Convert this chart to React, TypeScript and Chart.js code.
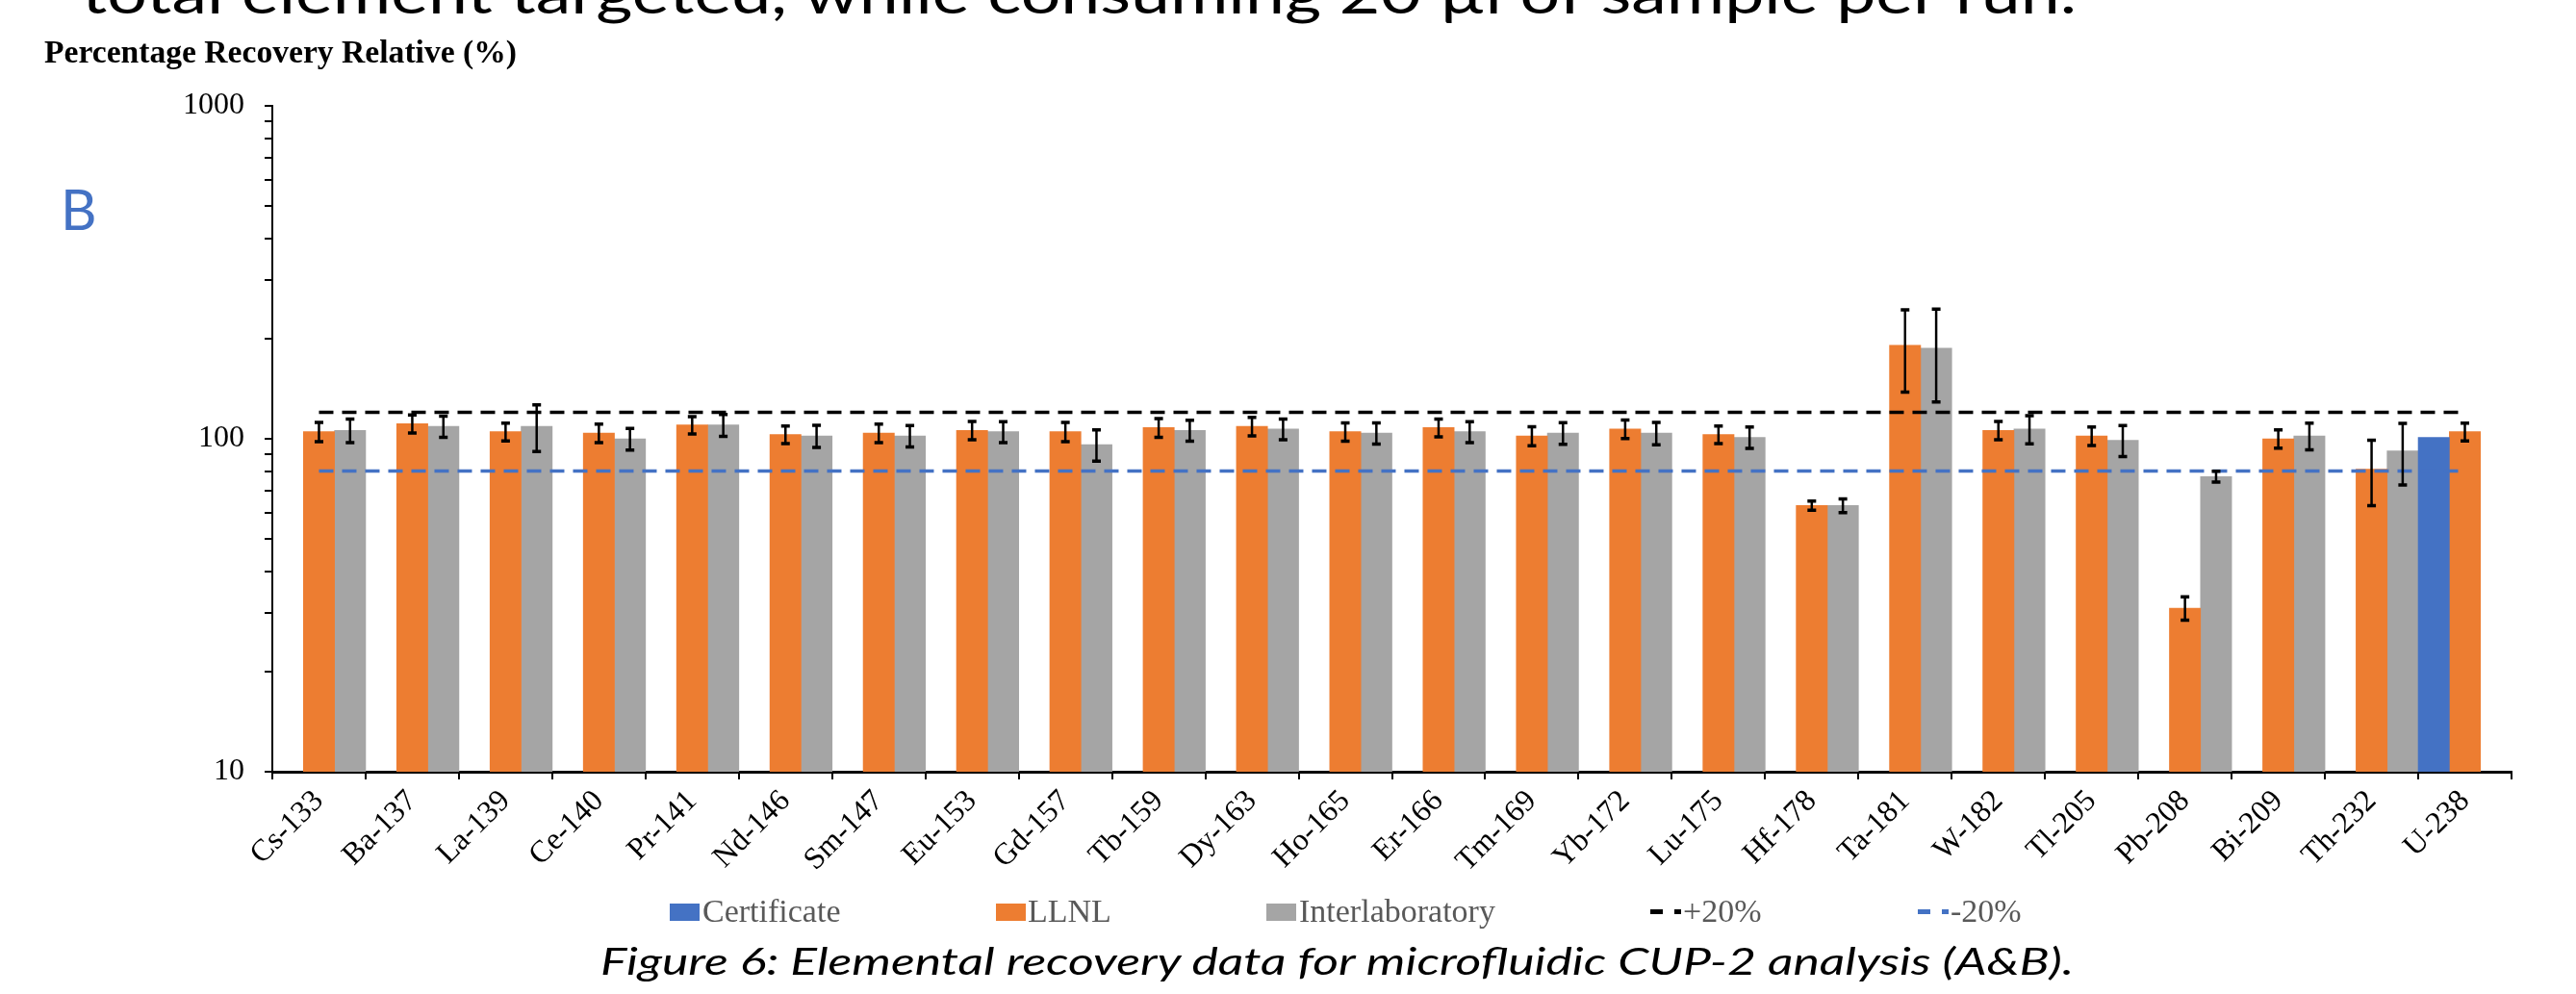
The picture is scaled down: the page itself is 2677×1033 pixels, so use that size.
import React, { useEffect, useRef } from "react";
import { Chart, registerables } from "chart.js";

Chart.register(...registerables);

// ---------- data ----------
const categories = [
  "Cs-133", "Ba-137", "La-139", "Ce-140", "Pr-141", "Nd-146", "Sm-147", "Eu-153",
  "Gd-157", "Tb-159", "Dy-163", "Ho-165", "Er-166", "Tm-169", "Yb-172", "Lu-175",
  "Hf-178", "Ta-181", "W-182", "Tl-205", "Pb-208", "Bi-209", "Th-232", "U-238",
];

const certificateValues = [
  null, null, null, null, null, null, null, null, null, null, null, null,
  null, null, null, null, null, null, null, null, null, null, null, 101,
];

const llnlValues = [
  105, 111, 105, 104, 110, 103, 104, 106, 105, 108, 109, 105,
  108, 102, 107, 103, 63, 191, 106, 102, 31, 100, 81, 105,
];
const llnlErrors = [
  7, 7, 6.5, 6.6, 6.6, 6.2, 6.6, 6.7, 6.9, 7, 6.9, 6.6,
  6.6, 6.7, 6.8, 6.3, 2, 53, 6.7, 6.5, 2.5, 6.3, 18, 6.5,
];

const interlabValues = [
  106, 109, 109, 100, 110, 102, 102, 105, 96, 106, 107, 104,
  105, 104, 104, 101, 63, 187, 107, 99, 77, 102, 92, null,
];
const interlabErrors = [
  8.7, 8, 17.5, 7.5, 8.3, 7.8, 7.5, 7.6, 10.3, 7.6, 7.7, 7.6,
  7.6, 7.8, 8, 7.5, 3, 58, 10.4, 10.6, 2.9, 9.4, 19.3, null,
];

const plus20Values = [
  120, 120, 120, 120, 120, 120, 120, 120, 120, 120, 120, 120,
  120, 120, 120, 120, 120, 120, 120, 120, 120, 120, 120, 120,
];
const minus20Values = [
  80, 80, 80, 80, 80, 80, 80, 80, 80, 80, 80, 80,
  80, 80, 80, 80, 80, 80, 80, 80, 80, 80, 80, 80,
];

const yTickValues = [10, 20, 30, 40, 50, 60, 70, 80, 90, 100, 200, 300, 400, 500, 600, 700, 800, 900, 1000];
const yTickLabels = ["10", "100", "1000"];

const legendLabels = ["Certificate", "LLNL", "Interlaboratory", "+20%", "-20%"];
const seriesNames = ["Certificate", "LLNL", "Interlaboratory", "+20%", "-20%"];

const axisTitle = "Percentage Recovery Relative (%)";
const topText = "total element targeted, while consuming 20 µl of sample per run.";
const panelLetter = "B";
const captionText = "Figure 6: Elemental recovery data for microfluidic CUP-2 analysis (A&B).";

// ---------- styles ----------
const BLUE = "#4472C4";
const ORANGE = "#ED7D31";
const GRAY = "#A5A5A5";
const SERIF = "'Liberation Serif', 'Times New Roman', serif";
const SANS = "Lato, 'Open Sans', sans-serif";

const errorBarPlugin = {
  id: "errorBars",
  afterDatasetsDraw(chart: any) {
    const ctx = chart.ctx;
    const yScale = chart.scales.y;
    const sets: [number, (number | null)[], (number | null)[]][] = [
      [1, llnlValues, llnlErrors],
      [2, interlabValues, interlabErrors],
    ];
    ctx.save();
    ctx.strokeStyle = "#000";
    for (const [idx, vals, errs] of sets) {
      const meta = chart.getDatasetMeta(idx);
      meta.data.forEach((bar: any, j: number) => {
        const v = vals[j];
        const e = errs[j];
        if (v == null || e == null) return;
        const x = bar.x;
        const top = yScale.getPixelForValue(v + e);
        const bot = yScale.getPixelForValue(v - e);
        ctx.lineWidth = 2.5;
        ctx.beginPath();
        ctx.moveTo(x, top);
        ctx.lineTo(x, bot);
        ctx.stroke();
        ctx.lineWidth = 3.5;
        ctx.beginPath();
        ctx.moveTo(x - 4.5, top);
        ctx.lineTo(x + 4.5, top);
        ctx.moveTo(x - 4.5, bot);
        ctx.lineTo(x + 4.5, bot);
        ctx.stroke();
      });
    }
    ctx.restore();
  },
};

function ChartCanvas() {
  const ref = useRef<HTMLCanvasElement | null>(null);
  useEffect(() => {
    if (!ref.current) return;
    const chart = new Chart(ref.current, {
      type: "bar",
      data: {
        labels: categories,
        datasets: [
          {
            label: seriesNames[0],
            data: certificateValues as any,
            backgroundColor: BLUE,
            borderWidth: 0,
            categoryPercentage: 1,
            barPercentage: 1,
            order: 1,
          },
          {
            label: seriesNames[1],
            data: llnlValues,
            backgroundColor: ORANGE,
            borderWidth: 0,
            categoryPercentage: 1,
            barPercentage: 1,
            order: 1,
          },
          {
            label: seriesNames[2],
            data: interlabValues as any,
            backgroundColor: GRAY,
            borderWidth: 0,
            categoryPercentage: 1,
            barPercentage: 1,
            order: 1,
          },
          {
            type: "line",
            label: seriesNames[3],
            data: plus20Values,
            borderColor: "#000",
            borderWidth: 3.5,
            borderDash: [15, 9],
            pointRadius: 0,
            fill: false,
            tension: 0,
            order: 0,
          } as any,
          {
            type: "line",
            label: seriesNames[4],
            data: minus20Values,
            borderColor: BLUE,
            borderWidth: 3.5,
            borderDash: [15, 9],
            pointRadius: 0,
            fill: false,
            tension: 0,
            order: 0,
          } as any,
        ],
      },
      options: {
        animation: false,
        responsive: false,
        maintainAspectRatio: false,
        devicePixelRatio: 1,
        events: [],
        layout: { padding: { left: 0, right: 67, top: 110, bottom: 0 } },
        plugins: {
          legend: { display: false },
          tooltip: { enabled: false },
          title: { display: false },
        },
        scales: {
          x: {
            type: "category",
            offset: true,
            grid: {
              display: true,
              offset: true,
              drawOnChartArea: false,
              drawTicks: true,
              tickLength: 8,
              color: "#000",
              lineWidth: 2,
            },
            border: { display: true, color: "#000", width: 3 },
            ticks: {
              font: { family: SERIF, size: 32 },
              color: "#000",
              minRotation: 45,
              maxRotation: 45,
              autoSkip: false,
              padding: 4,
            },
            afterFit: (s: any) => {
              s.height = 231;
            },
          },
          y: {
            type: "logarithmic",
            min: 10,
            max: 1000,
            afterBuildTicks: (s: any) => {
              s.ticks = yTickValues.map((v) => ({ value: v }));
            },
            ticks: {
              autoSkip: false,
              callback: (v: any) => (yTickLabels.includes(String(v)) ? String(v) : ""),
              font: { family: SERIF, size: 32 },
              color: "#000",
              padding: 21,
            },
            grid: {
              display: true,
              drawOnChartArea: false,
              drawTicks: true,
              tickLength: 8,
              color: "#000",
              lineWidth: 2,
            },
            border: { display: true, color: "#000", width: 2 },
            afterFit: (s: any) => {
              s.width = 283;
            },
          },
        },
      } as any,
      plugins: [errorBarPlugin],
    });
    return () => chart.destroy();
  }, []);
  return (
    <canvas
      ref={ref}
      width={2677}
      height={1033}
      style={{ position: "absolute", left: 0, top: 0, width: 2677, height: 1033 }}
    />
  );
}

export default function App() {
  const legendText = { fontFamily: SERIF, fontSize: 34, fill: "#595959" } as const;
  return (
    <div
      style={{
        position: "absolute",
        left: 0,
        top: 0,
        width: 2677,
        height: 1033,
        overflow: "hidden",
        background: "#fff",
      }}
    >
      <ChartCanvas />
      <svg
        width={2677}
        height={1033}
        style={{ position: "absolute", left: 0, top: 0, pointerEvents: "none" }}
      >
        <text x={85} y={14} fontFamily={SANS} fontSize={58} textLength={2073} lengthAdjust="spacingAndGlyphs" fill="#000">
          {topText}
        </text>
        <text x={63} y={239} fontFamily={SANS} fontSize={58} fill={BLUE}>
          {panelLetter}
        </text>
        <text x={46} y={65} fontFamily={SERIF} fontWeight="bold" fontSize={33} textLength={491} lengthAdjust="spacingAndGlyphs" fill="#000">
          {axisTitle}
        </text>

        {/* legend */}
        <rect x={696} y={939} width={31} height={18} fill={BLUE} />
        <text x={730} y={958} {...legendText}>{legendLabels[0]}</text>
        <rect x={1035} y={939} width={31} height={18} fill={ORANGE} />
        <text x={1068} y={958} {...legendText}>{legendLabels[1]}</text>
        <rect x={1316} y={939} width={31} height={18} fill={GRAY} />
        <text x={1350} y={958} {...legendText}>{legendLabels[2]}</text>
        <rect x={1715} y={945} width={13} height={5} fill="#000" />
        <rect x={1740} y={945} width={7} height={5} fill="#000" />
        <text x={1749} y={958} {...legendText}>{legendLabels[3]}</text>
        <rect x={1993} y={945} width={13} height={5} fill={BLUE} />
        <rect x={2018} y={945} width={7} height={5} fill={BLUE} />
        <text x={2027} y={958} {...legendText}>{legendLabels[4]}</text>

        <text x={624} y={1013} fontFamily={SANS} fontStyle="italic" fontSize={38} textLength={1531} lengthAdjust="spacingAndGlyphs" fill="#000">
          {captionText}
        </text>
      </svg>
    </div>
  );
}
